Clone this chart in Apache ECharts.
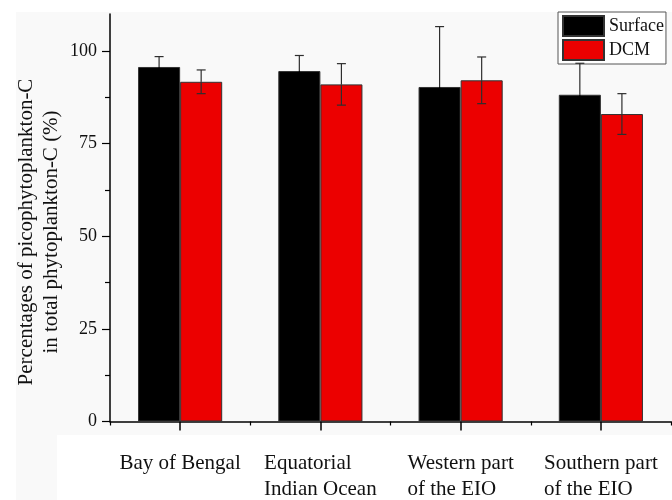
<!DOCTYPE html>
<html>
<head>
<meta charset="utf-8">
<script src="https://cdn.jsdelivr.net/npm/echarts@6/dist/echarts.min.js"></script>
<style>html,body{margin:0;padding:0;background:#fff}#c{width:672px;height:500px}</style>
</head>
<body>
<div id="c"></div>
<script>
var categories = ['Bay of Bengal', 'Equatorial\nIndian Ocean', 'Western part\nof the EIO', 'Southern part\nof the EIO'];
var surfaceMean = [95.7, 94.6, 90.3, 88.2];
var surfaceSD = [2.8, 4.2, 16.3, 8.5];
var dcmMean = [91.7, 91.0, 92.1, 83.0];
var dcmSD = [3.2, 5.6, 6.3, 5.5];
var yMajorTicks = [0, 25, 50, 75, 100];
var yMinorTicks = [12.5, 37.5, 62.5, 87.5];

var FONT = '"Liberation Serif", "Times New Roman", serif';

function errData(mean, sd) {
  return mean.map(function (m, i) { return [i, m, sd[i]]; });
}
function errRender(sign, lowerColor) {
  return function (params, api) {
    var i = api.value(0), m = api.value(1), s = api.value(2);
    var off = sign * api.size([1, 0])[0] * 0.15;
    var top = api.coord([i, m + s]);
    var mid = api.coord([i, m]);
    var bot = api.coord([i, m - s]);
    var x = top[0] + off;
    var st = { stroke: '#2e2e2e', lineWidth: 1.2 };
    var st2 = { stroke: lowerColor, lineWidth: 1.2 };
    var cw = 4.5;
    return {
      type: 'group',
      children: [
        { type: 'line', shape: { x1: x, y1: top[1], x2: x, y2: mid[1] }, style: st },
        { type: 'line', shape: { x1: x, y1: mid[1], x2: x, y2: bot[1] }, style: st2 },
        { type: 'line', shape: { x1: x - cw, y1: top[1], x2: x + cw, y2: top[1] }, style: st },
        { type: 'line', shape: { x1: x - cw, y1: bot[1], x2: x + cw, y2: bot[1] }, style: st2 }
      ]
    };
  };
}

var chart = echarts.init(document.getElementById('c'), null, { renderer: 'canvas' });
chart.setOption({
  backgroundColor: '#f9f9f9',
  animation: false,
  textStyle: { fontFamily: FONT },
  graphic: [
    { type: 'rect', z: -10, silent: true, shape: { x: 0, y: 0, width: 672, height: 12 }, style: { fill: '#fff' } },
    { type: 'rect', z: -10, silent: true, shape: { x: 0, y: 0, width: 16, height: 500 }, style: { fill: '#fff' } },
    { type: 'rect', z: -10, silent: true, shape: { x: 57, y: 435, width: 615, height: 65 }, style: { fill: '#fff' } },
    {
      type: 'text', x: 39, y: 232, rotation: Math.PI / 2, silent: true,
      style: {
        text: 'Percentages of picophytoplankton-C\nin total phytoplankton-C (%)',
        font: '21px ' + FONT, fill: '#111', align: 'center', verticalAlign: 'middle', lineHeight: 25
      }
    }
  ],
  legend: {
    left: 558, top: 12, orient: 'vertical', icon: 'rect',
    itemWidth: 41, itemHeight: 20, itemGap: 2, padding: [3, 2, 3, 4],
    borderColor: '#555', borderWidth: 1, backgroundColor: '#fff',
    textStyle: { fontFamily: FONT, fontSize: 18, lineHeight: 20, color: '#111' },
    data: ['Surface', 'DCM']
  },
  grid: { left: 110, right: 1, top: 14, bottom: 76, containLabel: false },
  xAxis: [
    {
      type: 'category', data: categories,
      axisLine: { lineStyle: { color: '#000', width: 1.5 } },
      axisTick: { show: true, interval: 0, alignWithLabel: true, length: 9, lineStyle: { color: '#000', width: 1.5 } },
      axisLabel: {
        interval: 0, margin: 29, color: '#111',
        formatter: function (v) {
          return v.split('\n').map(function (l) { return '{a|' + l + '}'; }).join('\n');
        },
        rich: { a: { fontFamily: FONT, fontSize: 21, lineHeight: 26, align: 'left', color: '#111' } }
      }
    },
    {
      type: 'category', data: categories, position: 'bottom',
      axisLine: { show: true, lineStyle: { color: '#000', opacity: 0 } },
      axisTick: { show: true, interval: 0, length: 4, lineStyle: { color: '#000', width: 1.2 } },
      axisLabel: { show: false }
    }
  ],
  yAxis: [
    {
      type: 'value', min: 0, max: 110, interval: 25,
      axisLine: { show: true, lineStyle: { color: '#000', width: 1.5 } },
      axisTick: { show: true, length: 8, customValues: yMajorTicks, lineStyle: { color: '#000', width: 1.2 } },
      axisLabel: { margin: 13, fontFamily: FONT, fontSize: 18, color: '#111', customValues: yMajorTicks },
      splitLine: { show: false }
    },
    {
      type: 'value', min: 0, max: 110, position: 'left',
      axisLine: { show: false },
      axisTick: { show: true, length: 5, customValues: yMinorTicks, lineStyle: { color: '#000', width: 1.2 } },
      axisLabel: { show: false },
      splitLine: { show: false }
    }
  ],
  series: [
    {
      name: 'Surface', type: 'bar', data: surfaceMean, barWidth: '30%', barGap: '0%',
      itemStyle: { color: '#000', borderColor: '#333', borderWidth: 1 }
    },
    {
      name: 'DCM', type: 'bar', data: dcmMean, barWidth: '30%', barGap: '0%',
      itemStyle: { color: '#ec0000', borderColor: '#333', borderWidth: 1 }
    },
    {
      type: 'custom', name: 'Surface err', data: errData(surfaceMean, surfaceSD),
      encode: { x: 0, y: 1 }, renderItem: errRender(-1, '#000'), z: 5, silent: true
    },
    {
      type: 'custom', name: 'DCM err', data: errData(dcmMean, dcmSD),
      encode: { x: 0, y: 1 }, renderItem: errRender(1, '#2e2e2e'), z: 5, silent: true
    }
  ]
});
</script>
</body>
</html>
